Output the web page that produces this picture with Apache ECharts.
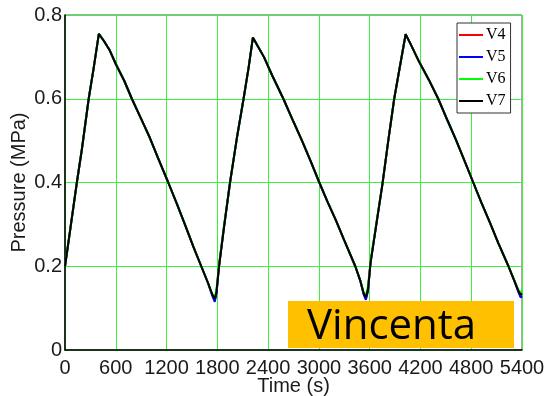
<!DOCTYPE html>
<html>
<head>
<meta charset="utf-8">
<script src="https://cdn.jsdelivr.net/npm/echarts@6/dist/echarts.min.js"></script>
<style>
html,body{margin:0;padding:0;background:#fff;}
#chart{width:545px;height:396px;}
</style>
</head>
<body>
<div id="chart"></div>
<script>
const times = [0,60,140,200,280,340,400,460,530,600,700,790,900,1000,1100,1220,1320,1420,1520,1610,1690,1740,1770,1790,1820,1880,1950,2030,2110,2170,2220,2280,2350,2450,2580,2700,2800,2900,3005,3100,3200,3300,3430,3490,3530,3555,3580,3610,3680,3750,3820,3890,3960,4025,4090,4180,4300,4410,4520,4620,4720,4824,4920,5020,5120,5240,5310,5360,5385,5400];

const v7 = [0.200,0.285,0.400,0.480,0.600,0.675,0.755,0.738,0.715,0.683,0.643,0.600,0.552,0.508,0.458,0.400,0.350,0.298,0.245,0.200,0.160,0.133,0.122,0.140,0.200,0.295,0.400,0.505,0.600,0.675,0.746,0.725,0.700,0.655,0.600,0.545,0.500,0.452,0.400,0.355,0.310,0.262,0.200,0.165,0.135,0.126,0.145,0.208,0.302,0.395,0.500,0.600,0.680,0.754,0.728,0.690,0.645,0.600,0.548,0.502,0.452,0.400,0.352,0.305,0.255,0.200,0.165,0.140,0.132,0.135];

const v4 = [0.200,0.285,0.400,0.480,0.600,0.675,0.755,0.738,0.715,0.683,0.643,0.600,0.552,0.508,0.458,0.400,0.350,0.298,0.245,0.200,0.160,0.131,0.118,0.137,0.200,0.295,0.400,0.505,0.600,0.675,0.746,0.725,0.700,0.655,0.600,0.545,0.500,0.452,0.400,0.355,0.310,0.262,0.200,0.165,0.134,0.122,0.142,0.208,0.302,0.395,0.500,0.600,0.680,0.754,0.728,0.690,0.645,0.600,0.548,0.502,0.452,0.400,0.352,0.305,0.255,0.200,0.165,0.139,0.128,0.130];

const v5 = [0.200,0.285,0.400,0.480,0.600,0.675,0.755,0.738,0.715,0.683,0.643,0.600,0.552,0.508,0.458,0.400,0.350,0.298,0.245,0.200,0.160,0.130,0.115,0.134,0.200,0.295,0.400,0.505,0.600,0.675,0.746,0.725,0.700,0.655,0.600,0.545,0.500,0.452,0.400,0.355,0.310,0.262,0.200,0.165,0.132,0.120,0.140,0.208,0.302,0.395,0.500,0.600,0.680,0.754,0.728,0.690,0.645,0.600,0.548,0.502,0.452,0.400,0.352,0.305,0.255,0.200,0.165,0.137,0.125,0.128];

const v6 = [0.200,0.285,0.400,0.480,0.600,0.675,0.755,0.738,0.715,0.683,0.643,0.600,0.552,0.508,0.458,0.400,0.350,0.298,0.245,0.200,0.160,0.134,0.125,0.146,0.205,0.298,0.400,0.505,0.600,0.675,0.746,0.725,0.700,0.655,0.600,0.545,0.500,0.452,0.400,0.355,0.310,0.262,0.200,0.166,0.137,0.130,0.152,0.213,0.305,0.395,0.500,0.600,0.680,0.754,0.728,0.690,0.645,0.600,0.548,0.502,0.452,0.400,0.352,0.305,0.255,0.200,0.166,0.143,0.137,0.142];

const seriesNames = ['V4','V5','V6','V7'];
const seriesColors = ['#ff0000','#0000ff','#00ff00','#000000'];
const seriesValues = [v4, v5, v6, v7];

const xTicks = [0,600,1200,1800,2400,3000,3600,4200,4800,5400];
const yTicks = [0,0.2,0.4,0.6,0.8];

const chart = echarts.init(document.getElementById('chart'), null, {renderer:'canvas'});

const series = seriesNames.map((name, i) => ({
  name: name,
  type: 'line',
  showSymbol: false,
  symbol: 'none',
  data: times.map((t, j) => [t, seriesValues[i][j]]),
  lineStyle: {color: seriesColors[i], width: 2},
  itemStyle: {color: seriesColors[i]},
  z: 2 + i
}));

const option = {
  animation: false,
  backgroundColor: '#fff',
  grid: {left: 65, right: 23, top: 15, bottom: 46, containLabel: false, outerBoundsMode: 'none', show: true, borderColor: '#555', borderWidth: 1, backgroundColor: 'transparent'},
  legend: {
    data: seriesNames,
    orient: 'vertical',
    left: 457,
    top: 23,
    icon: 'rect',
    itemWidth: 24,
    itemHeight: 2,
    itemGap: 6,
    padding: [4, 5, 4, 2],
    backgroundColor: '#fff',
    borderColor: '#333',
    borderWidth: 1,
    textStyle: {fontFamily: 'Liberation Serif', fontSize: 16, color: '#000', padding: [0,0,0,-2]}
  },
  xAxis: {
    type: 'value',
    min: xTicks[0],
    max: xTicks[xTicks.length - 1],
    interval: 600,
    name: 'Time (s)',
    nameLocation: 'middle',
    nameGap: 26,
    nameMoveOverlap: false,
    nameTextStyle: {fontFamily: 'Liberation Sans', fontSize: 20, color: '#1a1a1a'},
    axisLine: {show: true, lineStyle: {color: '#000', width: 1.5}},
    axisTick: {show: false},
    axisLabel: {fontFamily: 'Liberation Sans', fontSize: 20, color: '#1a1a1a', margin: 8, formatter: v => String(v)},
    splitLine: {show: true, lineStyle: {color: '#3cf03c', width: 1}}
  },
  yAxis: {
    type: 'value',
    min: yTicks[0],
    max: yTicks[yTicks.length - 1],
    interval: 0.2,
    name: 'Pressure (MPa)',
    nameLocation: 'middle',
    nameGap: 36,
    nameMoveOverlap: false,
    nameTextStyle: {fontFamily: 'Liberation Sans', fontSize: 20, color: '#1a1a1a'},
    axisLine: {show: true, lineStyle: {color: '#000', width: 1.5}},
    axisTick: {show: false},
    axisLabel: {fontFamily: 'Liberation Sans', fontSize: 20, color: '#1a1a1a', margin: 3, formatter: v => String(Math.round(v * 10) / 10)},
    splitLine: {show: true, lineStyle: {color: '#3cf03c', width: 1}}
  },
  graphic: [
    {type: 'rect', left: 288, top: 301, shape: {width: 226, height: 47}, style: {fill: '#ffc000'}, z: 100},
    {type: 'text', left: 307, top: 306, style: {text: 'Vincenta', fill: '#000', font: '42px "Open Sans"'}, z: 101}
  ],
  series: series
};

chart.setOption(option);
</script>
</body>
</html>
